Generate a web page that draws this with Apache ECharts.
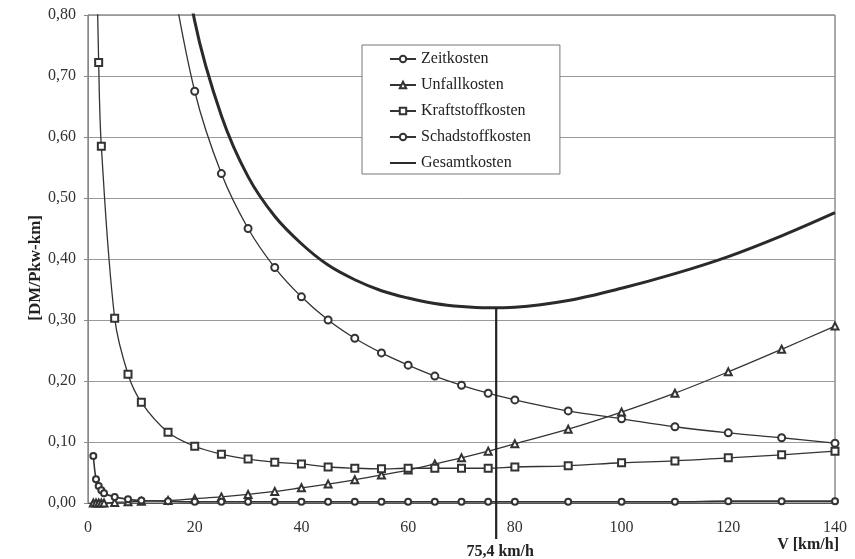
<!DOCTYPE html>
<html>
<head>
<meta charset="utf-8">
<script src="https://cdn.jsdelivr.net/npm/echarts@6/dist/echarts.min.js"></script>
<style>html,body{margin:0;padding:0;background:#fff;}#c{width:855px;height:559px;}</style>
</head>
<body>
<div id="c"></div>
<script>
// Speeds (km/h) for each series
const zeitSpeeds = [15, 20, 25, 30, 35, 40, 45, 50, 55, 60, 65, 70, 75, 80, 90, 100, 110, 120, 130, 140];
const zeitkosten = [0.90, 0.675, 0.54, 0.45, 0.386, 0.338, 0.30, 0.27, 0.246, 0.226, 0.208, 0.193, 0.18, 0.169, 0.151, 0.138, 0.125, 0.115, 0.107, 0.098];

const unfallSpeeds = [1, 1.5, 2, 2.5, 3, 5, 7.5, 10, 15, 20, 25, 30, 35, 40, 45, 50, 55, 60, 65, 70, 75, 80, 90, 100, 110, 120, 130, 140];
const unfallkosten = [0, 0, 0, 0, 0, 0.001, 0.002, 0.003, 0.004, 0.007, 0.010, 0.014, 0.019, 0.025, 0.031, 0.038, 0.046, 0.054, 0.064, 0.074, 0.085, 0.097, 0.121, 0.149, 0.18, 0.215, 0.252, 0.29];

const kraftSpeeds = [1.5, 2, 2.5, 5, 7.5, 10, 15, 20, 25, 30, 35, 40, 45, 50, 55, 60, 65, 70, 75, 80, 90, 100, 110, 120, 130, 140];
const kraftstoffkosten = [0.95, 0.722, 0.585, 0.303, 0.211, 0.165, 0.116, 0.093, 0.080, 0.072, 0.067, 0.064, 0.059, 0.057, 0.056, 0.057, 0.057, 0.057, 0.057, 0.059, 0.061, 0.066, 0.069, 0.074, 0.079, 0.085];

const schadSpeeds = [1, 1.5, 2, 2.5, 3, 5, 7.5, 10, 15, 20, 25, 30, 35, 40, 45, 50, 55, 60, 65, 70, 75, 80, 90, 100, 110, 120, 130, 140];
const schadstoffkosten = [0.077, 0.039, 0.028, 0.021, 0.016, 0.010, 0.006, 0.004, 0.003, 0.002, 0.002, 0.002, 0.002, 0.002, 0.002, 0.002, 0.002, 0.002, 0.002, 0.002, 0.002, 0.002, 0.002, 0.002, 0.002, 0.003, 0.003, 0.003];

const gesamtSpeeds = [15, 20, 25, 30, 35, 40, 45, 50, 55, 60, 65, 70, 75, 80, 90, 100, 110, 120, 130, 140];
const gesamtkosten = [1.06, 0.79, 0.635, 0.535, 0.47, 0.425, 0.39, 0.366, 0.348, 0.336, 0.327, 0.322, 0.320, 0.321, 0.332, 0.352, 0.376, 0.404, 0.438, 0.476];

const optimumSpeed = 76.5;       // position of the drawn vertical marker
const optimumCost = 0.320;
const optimumBottom = -0.059;    // marker extends below the axis
const optimumLabel = '75,4 km/h';

const seriesNames = ['Zeitkosten', 'Unfallkosten', 'Kraftstoffkosten', 'Schadstoffkosten', 'Gesamtkosten'];
const xTicks = {min: 0, max: 140, interval: 20};
const yTicks = {min: 0, max: 0.8, interval: 0.1};

const pairs = (xs, ys) => xs.map((x, i) => [x, ys[i]]);
const FONT = '"Liberation Serif", "DejaVu Serif", serif';
const INK = '#333';

const lineBase = {
  type: 'line', smooth: 0.35, clip: true,
  lineStyle: {color: INK, width: 1.3},
  itemStyle: {color: INK, borderColor: INK, borderWidth: 1.2},
  emphasis: {disabled: true}
};

const chart = echarts.init(document.getElementById('c'), null, {renderer: 'canvas'});
chart.setOption({
  animation: false,
  backgroundColor: '#fff',
  textStyle: {fontFamily: FONT},
  grid: {left: 88, right: 20, top: 15, bottom: 56, show: true, borderColor: '#555', borderWidth: 1, backgroundColor: 'transparent'},
  legend: {
    orient: 'vertical', left: 362, top: 45,
    data: seriesNames.map((n, i) => i === 4 ? {name: n, itemStyle: {opacity: 0}} : {name: n}),
    itemWidth: 26, itemHeight: 8, itemGap: 10, itemTextGap: 3,
    padding: [6, 29, 3, 27],
    backgroundColor: '#fff', borderColor: '#777', borderWidth: 1, borderRadius: 0,
    textStyle: {fontFamily: FONT, fontSize: 16, color: '#222'},
    selectedMode: false
  },
  xAxis: {
    type: 'value', min: xTicks.min, max: xTicks.max, interval: xTicks.interval,
    axisLine: {show: true, onZero: false, lineStyle: {color: '#555'}},
    axisTick: {show: false},
    splitLine: {show: false},
    axisLabel: {fontFamily: FONT, fontSize: 16, color: '#333', margin: 17}
  },
  yAxis: {
    type: 'value', min: yTicks.min, max: yTicks.max, interval: yTicks.interval,
    axisLine: {show: true, lineStyle: {color: '#888'}},
    axisTick: {show: true, length: 4, lineStyle: {color: '#888'}},
    splitLine: {show: true, lineStyle: {color: '#999', width: 1}},
    axisLabel: {fontFamily: FONT, fontSize: 16, color: '#333', margin: 12,
      formatter: v => v.toFixed(2).replace('.', ',')}
  },
  series: [
    Object.assign({}, lineBase, {name: seriesNames[0], data: pairs(zeitSpeeds, zeitkosten), symbol: 'emptyCircle', symbolSize: 7}),
    Object.assign({}, lineBase, {name: seriesNames[1], data: pairs(unfallSpeeds, unfallkosten), symbol: 'emptyTriangle', symbolSize: 7}),
    Object.assign({}, lineBase, {name: seriesNames[2], data: pairs(kraftSpeeds, kraftstoffkosten), symbol: 'emptyRect', symbolSize: 7}),
    Object.assign({}, lineBase, {name: seriesNames[3], data: pairs(schadSpeeds, schadstoffkosten), symbol: 'emptyCircle', symbolSize: 6,
      lineStyle: {color: INK, width: 1.6}, itemStyle: {color: INK, borderColor: INK, borderWidth: 2}}),
    Object.assign({}, lineBase, {name: seriesNames[4], data: pairs(gesamtSpeeds, gesamtkosten), symbol: 'none', showSymbol: false,
      lineStyle: {color: '#2a2a2a', width: 3}}),
    {
      type: 'line', name: 'Optimum', clip: false, silent: true, symbol: 'none', showSymbol: false,
      data: [[optimumSpeed, optimumCost], [optimumSpeed, optimumBottom]],
      lineStyle: {color: '#222', width: 2.2}
    }
  ]
});

// Texts placed through the chart's own scales
const bottomPt = chart.convertToPixel({gridIndex: 0}, [optimumSpeed, optimumBottom]);
chart.setOption({
  graphic: [
    {type: 'text', left: 27, top: 215, rotation: Math.PI / 2,
     style: {text: '[DM/Pkw-km]', font: 'bold 17px ' + FONT, fill: '#222'}},
    {type: 'text', right: 16, top: 537,
     style: {text: 'V [km/h]', font: 'bold 16px ' + FONT, fill: '#222'}},
    {type: 'text', x: bottomPt[0] + 4, y: bottomPt[1] + 5,
     style: {text: optimumLabel, font: 'bold 16px ' + FONT, fill: '#222', align: 'center', verticalAlign: 'top'}}
  ]
});
</script>
</body>
</html>
